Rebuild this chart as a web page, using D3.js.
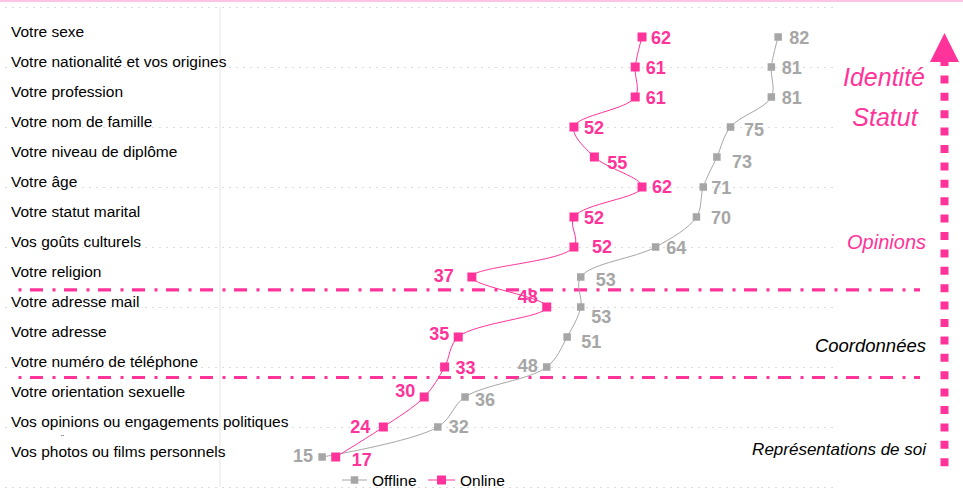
<!DOCTYPE html>
<html lang="fr">
<head>
<meta charset="utf-8">
<script src="https://cdn.jsdelivr.net/npm/d3@7"></script>
<style>
  html, body { margin: 0; padding: 0; background: #fff; }
  svg { display: block; font-family: "Liberation Sans", Arial, sans-serif; }
</style>
</head>
<body>
<svg id="chart" width="963" height="488"></svg>
<script>
// Données partagées : pourcentage de personnes qui acceptent de partager chaque information
const categories = [
  "Votre sexe",
  "Votre nationalité et vos origines",
  "Votre profession",
  "Votre nom de famille",
  "Votre niveau de diplôme",
  "Votre âge",
  "Votre statut marital",
  "Vos goûts culturels",
  "Votre religion",
  "Votre adresse mail",
  "Votre adresse",
  "Votre numéro de téléphone",
  "Votre orientation sexuelle",
  "Vos opinions ou engagements politiques",
  "Vos photos ou films personnels"
];
const offlineValues = [82, 81, 81, 75, 73, 71, 70, 64, 53, 53, 51, 48, 36, 32, 15];
const onlineValues  = [62, 61, 61, 52, 55, 62, 52, 52, 37, 48, 35, 33, 30, 24, 17];
const seriesNames = ["Offline", "Online"];
const groupLabels = ["Identité", "Statut", "Opinions", "Coordonnées", "Représentations de soi"];

// Placement des étiquettes de valeur : [ancre, décalage x, décalage y du centre]
const offlineLabelPlacement = [
  ["start", 11, 1], ["start", 10.5, 1], ["start", 10.5, 1], ["start", 13.5, 3],
  ["start", 15, 5], ["start", 8, 1], ["start", 14.5, 1], ["start", 10.5, 1],
  ["start", 15, 3], ["start", 10.5, 10], ["start", 14, 5], ["end", -9, -1],
  ["start", 10, 3], ["start", 11, 0], ["end", -9, -1]
];
const onlineLabelPlacement = [
  ["start", 9, 1], ["start", 10.5, 1], ["start", 10.5, 1], ["start", 10, 1],
  ["start", 13, 5.5], ["start", 10, 0], ["start", 10, 1], ["start", 18, 0],
  ["end", -18, -1], ["end", -9, -10], ["end", -9, -3], ["start", 11, 1],
  ["end", -9, -6], ["end", -13, 0], ["start", 16, 3]
];

const PINK = "#ff3399";
const GREY = "#a6a6a6";

const svg = d3.select("#chart");

// Échelles : valeurs en abscisse, rang de la catégorie en ordonnée (axe 0–16)
const x = d3.scaleLinear().domain([0, 90]).range([220, 832.6]);
const y = d3.scaleLinear().domain([0, 16]).range([487, 7]);
const rank = i => categories.length - i;   // la première catégorie est en haut

// Liseré rose en haut
svg.append("rect").attr("x", 0).attr("y", 0).attr("width", 963).attr("height", 2)
  .attr("fill", "#ffc4e6");

// Quadrillage horizontal pointillé
const grid = svg.append("g").attr("transform", "translate(833,0)").attr("class", "grid");
grid.call(d3.axisRight(y).tickValues(d3.range(0, 17, 2)).tickSize(-(833 - 5)).tickFormat(""));
grid.select(".domain").remove();
grid.selectAll(".tick line")
  .attr("stroke", "#dcdcdc").attr("stroke-width", 1).attr("stroke-dasharray", "2 5");

// Axe vertical à la valeur 0
svg.append("line")
  .attr("x1", x(0)).attr("x2", x(0)).attr("y1", y(16)).attr("y2", y(0))
  .attr("stroke", "#ececec").attr("stroke-width", 1.5);

// Séparateurs de groupes (trait-point rose)
const dividerLevels = [6.57, 3.65];
svg.selectAll(".divider").data(dividerLevels).enter().append("line")
  .attr("class", "divider")
  .attr("x1", 18.5).attr("x2", 920)
  .attr("y1", d => y(d)).attr("y2", d => y(d))
  .attr("stroke", PINK).attr("stroke-width", 3.2)
  .attr("stroke-dasharray", "3 8.5 13 9.5");

// Libellés des catégories
svg.selectAll(".cat").data(categories).enter().append("text")
  .attr("class", "cat")
  .attr("x", 11)
  .attr("y", (d, i) => y(rank(i)))
  .attr("font-size", 15.5)
  .attr("fill", "#000")
  .text(d => d);
// Deuxième ligne du libellé « opinions », tronquée
svg.append("text").attr("x", 61).attr("y", 441).attr("font-size", 9)
  .attr("fill", "#333").text("¨");

// Courbes lissées
const line = d3.line()
  .x(d => x(d.v))
  .y(d => y(d.r))
  .curve(d3.curveCatmullRom.alpha(0.5));

function drawSeries(values, color, markerSize, placement) {
  const pts = values.map((v, i) => ({ v, r: rank(i), i }));
  const g = svg.append("g");
  g.append("path").datum(pts)
    .attr("d", line)
    .attr("fill", "none").attr("stroke", color).attr("stroke-width", 1);
  g.selectAll("rect").data(pts).enter().append("rect")
    .attr("x", d => x(d.v) - markerSize / 2)
    .attr("y", d => y(d.r) - markerSize / 2)
    .attr("width", markerSize).attr("height", markerSize)
    .attr("fill", color);
  g.selectAll("text").data(pts).enter().append("text")
    .attr("x", d => x(d.v) + placement[d.i][1])
    .attr("y", d => y(d.r) + placement[d.i][2] + 6.4)
    .attr("text-anchor", d => placement[d.i][0])
    .attr("font-size", 18).attr("font-weight", "bold")
    .attr("fill", color)
    .text(d => d.v);
}
drawSeries(offlineValues, GREY, 7.5, offlineLabelPlacement);
drawSeries(onlineValues, PINK, 9, onlineLabelPlacement);

// Légende
const legend = svg.append("g");
const legendItems = [
  { name: seriesNames[0], color: GREY, x1: 342, x2: 367, size: 7.5, tx: 372 },
  { name: seriesNames[1], color: PINK, x1: 428, x2: 455, size: 9, tx: 460 }
];
legendItems.forEach(it => {
  legend.append("line").attr("x1", it.x1).attr("x2", it.x2).attr("y1", 480).attr("y2", 480)
    .attr("stroke", it.color).attr("stroke-width", 1);
  const cx = (it.x1 + it.x2) / 2;
  legend.append("rect").attr("x", cx - it.size / 2).attr("y", 480 - it.size / 2)
    .attr("width", it.size).attr("height", it.size).attr("fill", it.color);
  legend.append("text").attr("x", it.tx).attr("y", 486).attr("font-size", 15.5)
    .attr("fill", "#000").text(it.name);
});

// Annotations des groupes à droite
const ann = svg.append("g").attr("font-style", "italic");
ann.append("text").attr("x", 884).attr("y", 86).attr("text-anchor", "middle")
  .attr("font-size", 25).attr("fill", PINK).text(groupLabels[0]);
ann.append("text").attr("x", 885).attr("y", 126).attr("text-anchor", "middle")
  .attr("font-size", 25).attr("fill", PINK).text(groupLabels[1]);
ann.append("text").attr("x", 926).attr("y", 249).attr("text-anchor", "end")
  .attr("font-size", 20).attr("fill", PINK).text(groupLabels[2]);
ann.append("text").attr("x", 926).attr("y", 351.5).attr("text-anchor", "end")
  .attr("font-size", 18.5).attr("fill", "#000").text(groupLabels[3]);
ann.append("text").attr("x", 926).attr("y", 455).attr("text-anchor", "end")
  .attr("font-size", 17).attr("fill", "#000").text(groupLabels[4]);

// Flèche verticale pointillée
svg.append("line")
  .attr("x1", 944.5).attr("x2", 944.5).attr("y1", 58).attr("y2", 475)
  .attr("stroke", PINK).attr("stroke-width", 8).attr("stroke-dasharray", "8 9.4");
svg.append("path")
  .attr("d", d3.line()([[944.5, 33], [959, 62], [930, 62]]) + "Z")
  .attr("fill", PINK);
</script>
</body>
</html>
